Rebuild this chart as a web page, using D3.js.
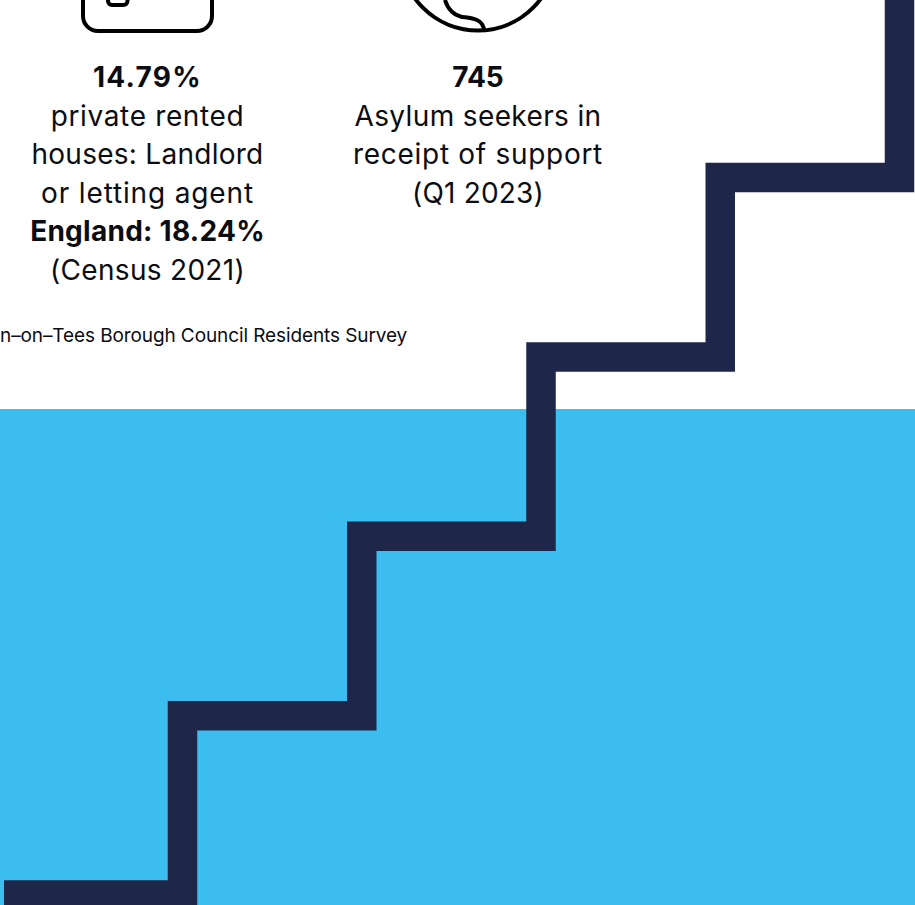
<!DOCTYPE html>
<html><head><meta charset="utf-8">
<script src="https://cdn.jsdelivr.net/npm/d3@7"></script>
<style>html,body{margin:0;padding:0;background:#fff;overflow:hidden}svg{display:block}text{font-family:Inter,sans-serif;fill:#0b0d12}</style>
</head><body><div id="c"></div>
<script>
const stairLevels = [0, 1, 2, 3, 4];
const stat1Lines = ["14.79%", "private rented", "houses: Landlord", "or letting agent", "England: 18.24%", "(Census 2021)"];
const stat1Bold = [true, false, false, false, true, false];
const stat1Tracking = [1.3, 0.65, 0.27, 0.85, 0.27, 0.3];
const stat2Lines = ["745", "Asylum seekers in", "receipt of support", "(Q1 2023)"];
const stat2Bold = [true, false, false, false];
const stat2Tracking = [0, 0.37, 0.7, 0.2];
const sourceText = "n\u2013on\u2013Tees Borough Council Residents Survey";

const W = 915, H = 905;
const svg = d3.select("#c").append("svg").attr("width", W).attr("height", H);
svg.append("rect").attr("x", 0).attr("y", 409).attr("width", W).attr("height", H - 409).attr("fill", "#3bbdef");

const x = d3.scaleLinear().domain([0, 4]).range([182.5, 899.5]);
const y = d3.scaleLinear().domain([0, 4]).range([895, 177.5]);
const pts = [[4, y(0)]];
stairLevels.forEach((l, i) => {
  pts.push([x(l), y(l)]);
  pts.push([x(l), i < stairLevels.length - 1 ? y(l + 1) : -20]);
});
svg.append("path").attr("d", d3.line()(pts)).attr("fill", "none").attr("stroke", "#1e2749")
  .attr("stroke-width", 29.5).attr("stroke-linejoin", "miter");

const icon = svg.append("g").attr("fill", "none").attr("stroke", "#000").attr("stroke-width", 4);
icon.append("rect").attr("x", 83).attr("y", -60).attr("width", 129).attr("height", 91).attr("rx", 15);
icon.append("rect").attr("x", 108).attr("y", -20).attr("width", 19.5).attr("height", 25).attr("rx", 4);
icon.append("circle").attr("cx", 478).attr("cy", -47.5).attr("r", 78);
icon.append("path").attr("d", "M445,0C448,10 454,15 462,17C472,18 484,19 484,31");

function block(lines, bold, tracking, cx, y0) {
  const t = svg.append("g").attr("text-anchor", "middle").style("font-size", "28px");
  lines.forEach((d, i) => t.append("text").attr("x", cx).attr("y", y0 + i * 38.5)
    .attr("font-weight", bold[i] ? 700 : 400).style("letter-spacing", tracking[i] + "px").text(d));
}
block(stat1Lines, stat1Bold, stat1Tracking, 147.5, 87.3);
block(stat2Lines, stat2Bold, stat2Tracking, 478, 87.3);
svg.append("text").attr("x", 0).attr("y", 342).style("font-size", "19px").style("letter-spacing", "-0.1px").text(sourceText);
</script></body></html>
